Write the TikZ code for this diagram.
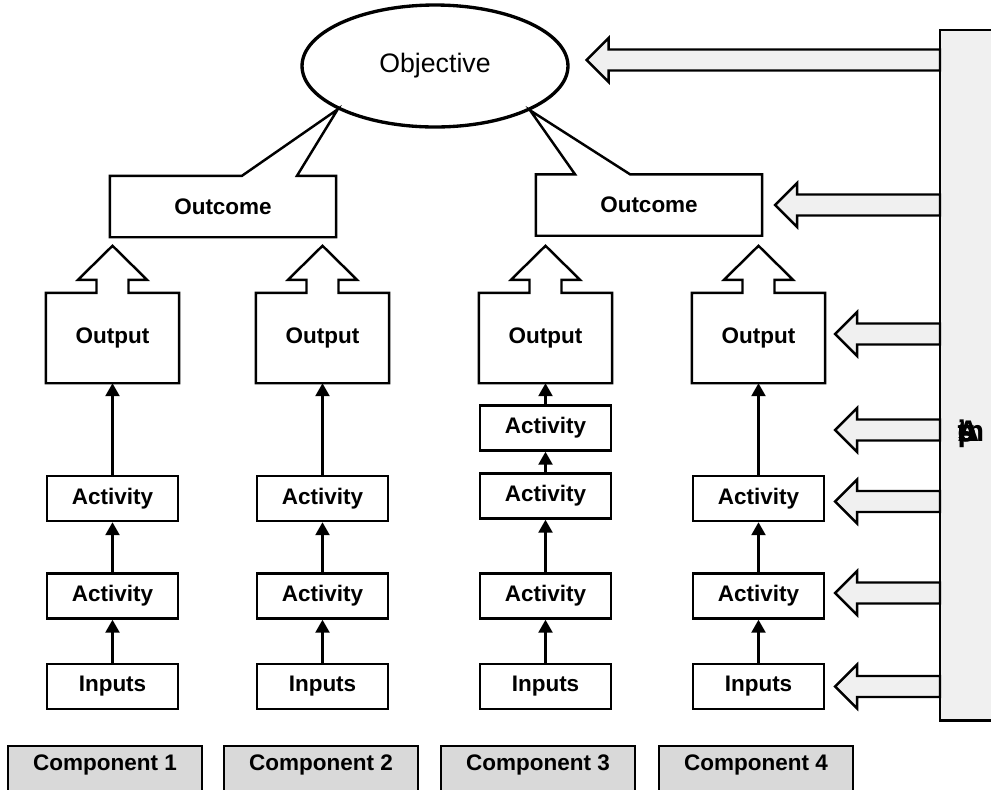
\documentclass[tikz,border=0pt]{standalone}
\usepackage{fontspec}
\setmainfont{Liberation Sans}
\usepackage{xcolor}
\definecolor{barfill}{HTML}{F0F0F0}
\definecolor{compfill}{HTML}{D9D9D9}
\usepackage{tikz}
\usetikzlibrary{shapes.geometric,arrows.meta,calc}

% outline of a box with a block arrow on its top edge
\newcommand{\arrowtop}[1]{%
  \draw[rim] (#1.south west) -- (#1.north west) -- ($(#1.north)+(-16,0)$) -- ++(0,-13)
    -- ++(-18.5,0) -- ($(#1.north)+(0,-47)$) -- ++(34.5,34) -- ++(-18.5,0) -- ++(0,13)
    -- (#1.north east) -- (#1.south east) -- cycle;}
% outline of a box with a wedge up to a point
\newcommand{\callout}[4]{%
  \draw[rim] (#1.south west) -- (#1.north west) -- ($(#1.north)+(#2,0)$) -- (#4)
    -- ($(#1.north)+(#3,0)$) -- (#1.north east) -- (#1.south east) -- cycle;}
% hollow arrow from the side bar to a tip point
\newcommand{\feedarrow}[1]{%
  \coordinate (t) at (#1);
  \filldraw[feed] (t) -- ++(22,-22) -- ++(0,11.5) -- ($(bar.west |- t)+(0,-10.5)$)
    -- ($(bar.west |- t)+(0,10.5)$) -- ($(t)+(22,10.5)$) -- ++(0,11.5) -- cycle;}

\begin{document}
\begin{tikzpicture}[x=0.02cm,y=-0.02cm,
  box/.style={rectangle,draw,line width=1.4pt,fill=white,minimum width=2.62cm,
    minimum height=0.9cm,inner sep=0pt,font=\bfseries\fontsize{12.8}{14}\selectfont},
  outbox/.style={box,draw=none,fill=none,minimum height=1.76cm},
  result/.style={box,draw=none,fill=none,minimum width=4.48cm,minimum height=1.18cm},
  goal/.style={ellipse,draw,line width=1.9pt,minimum width=5.32cm,minimum height=2.44cm,
    inner sep=0pt,font=\fontsize{15.2}{18}\selectfont},
  comp/.style={rectangle,draw,line width=1.4pt,fill=compfill,anchor=north,minimum width=3.88cm,
    inner xsep=0pt,inner ysep=0.17cm,text height=0.32cm,text depth=1cm,
    font=\bfseries\fontsize{12.8}{14}\selectfont},
  bar/.style={rectangle,fill=barfill,anchor=north west,minimum width=1.2cm,minimum height=13.8cm},
  rim/.style={line width=1.4pt,line join=miter},
  feed/.style={fill=barfill,draw,line width=1.4pt,line join=miter},
  link/.style={-{Triangle[length=0.26cm,width=0.28cm]},line width=1.4pt}]
  \useasboundingbox (0,0) rectangle (991,789);
  \clip (0,0) rectangle (991,789);

  \node[goal] (obj) at (435,66) {Objective};
  \node[result] (oc1) at (223,206.5) {Outcome};
  \node[result] (oc2) at (649,205) {Outcome};
  \callout{oc1}{19}{74}{obj.204}
  \callout{oc2}{-74}{-19}{obj.335}

  \node[outbox] (o1) at (112.5,338) {Output};
  \node[outbox] (o2) at (322.5,338) {Output};
  \node[outbox] (o3) at (545.5,338) {Output};
  \node[outbox] (o4) at (758.5,338) {Output};
  \arrowtop{o1} \arrowtop{o2} \arrowtop{o3} \arrowtop{o4}

  \node[box] (a1a) at (112.5,498.5) {Activity};
  \node[box] (a1b) at (112.5,596) {Activity};
  \node[box] (in1) at (112.5,686.5) {Inputs};
  \node[box] (a2a) at (322.5,498.5) {Activity};
  \node[box] (a2b) at (322.5,596) {Activity};
  \node[box] (in2) at (322.5,686.5) {Inputs};
  \node[box] (a3a) at (545.5,428) {Activity};
  \node[box] (a3b) at (545.5,496) {Activity};
  \node[box] (a3c) at (545.5,596) {Activity};
  \node[box] (in3) at (545.5,686.5) {Inputs};
  \node[box] (a4a) at (758.5,498.5) {Activity};
  \node[box] (a4b) at (758.5,596) {Activity};
  \node[box] (in4) at (758.5,686.5) {Inputs};

  \draw[link] (in1)--(a1b); \draw[link] (a1b)--(a1a); \draw[link] (a1a)--(o1);
  \draw[link] (in2)--(a2b); \draw[link] (a2b)--(a2a); \draw[link] (a2a)--(o2);
  \draw[link] (in3)--(a3c); \draw[link] (a3c)--(a3b); \draw[link] (a3b)--(a3a);
  \draw[link] (a3a)--(o3);
  \draw[link] (in4)--(a4b); \draw[link] (a4b)--(a4a); \draw[link] (a4a)--(o4);

  % side bar, open on the right, and its arrows
  \node[bar] (bar) at (940,30) {};
  \draw[rim] (bar.north east) -- (bar.north west) -- (bar.south west) -- (bar.south east);
  \node[font=\bfseries\fontsize{17}{17}\selectfont] (note) at (971,434)
    {\rlap{A}\rlap{s}\rlap{s}\rlap{u}\rlap{m}\rlap{p}\rlap{t}\rlap{i}\rlap{o}\rlap{n}\rlap{s}\phantom{m}};
  \feedarrow{$(obj.east)+(17,-6)$}
  \feedarrow{$(oc2.east)+(13,0)$}
  \feedarrow{$(o4.east)+(10,-4)$}
  \feedarrow{$(o4.east |- a3a)+(10,2)$}
  \feedarrow{$(a4a.east)+(10,3)$}
  \feedarrow{$(a4b.east)+(10,-3)$}
  \feedarrow{$(in4.east)+(10,0)$}

  \node[comp] (c1) at (105,745) {Component 1};
  \node[comp] (c2) at (321,745) {Component 2};
  \node[comp] (c3) at (538,745) {Component 3};
  \node[comp] (c4) at (756,745) {Component 4};
\end{tikzpicture}
\end{document}
